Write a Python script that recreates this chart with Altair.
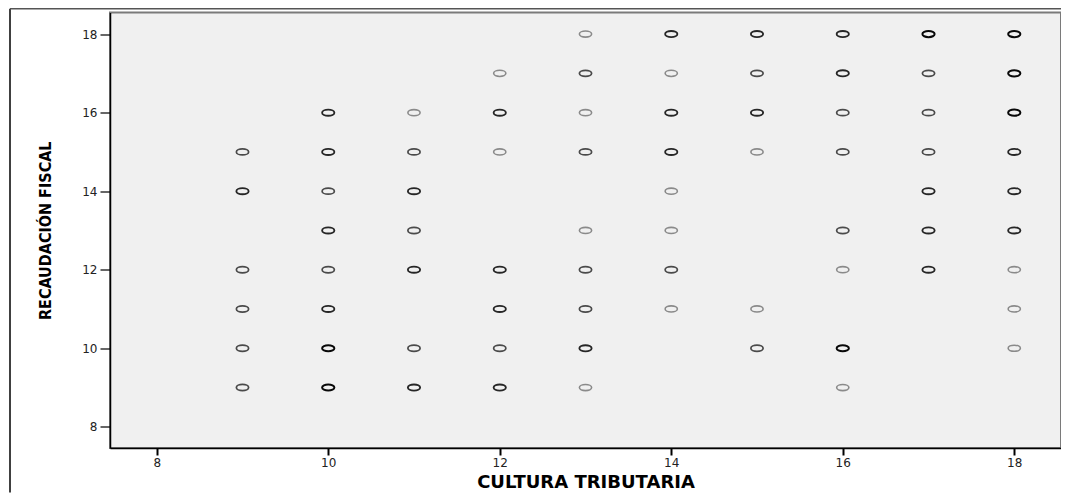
import altair as alt
import pandas as pd

# CULTURA TRIBUTARIA (x), RECAUDACIÓN FISCAL (y), number of overlapping cases (n)
cultura = (
    [9] * 6 + [10] * 8 + [11] * 7 + [12] * 7 + [13] * 9 +
    [14] * 8 + [15] * 6 + [16] * 8 + [17] * 7 + [18] * 9
)
recaudacion = (
    [15, 14, 12, 11, 10, 9]
    + [16, 15, 14, 13, 12, 11, 10, 9]
    + [16, 15, 14, 13, 12, 10, 9]
    + [17, 16, 15, 12, 11, 10, 9]
    + [18, 17, 16, 15, 13, 12, 11, 10, 9]
    + [18, 17, 16, 15, 14, 13, 12, 11]
    + [18, 17, 16, 15, 11, 10]
    + [18, 17, 16, 15, 13, 12, 10, 9]
    + [18, 17, 16, 15, 14, 13, 12]
    + [18, 17, 16, 15, 14, 13, 12, 11, 10]
)
conteo = (
    [2, 3, 2, 2, 2, 2]
    + [3, 3, 2, 3, 2, 3, 4, 4]
    + [1, 2, 3, 2, 3, 2, 3]
    + [1, 3, 1, 3, 3, 2, 3]
    + [1, 2, 1, 2, 1, 2, 2, 3, 1]
    + [3, 1, 3, 3, 1, 1, 2, 1]
    + [3, 2, 3, 1, 1, 2]
    + [3, 3, 2, 2, 2, 1, 4, 1]
    + [4, 2, 2, 2, 3, 3, 3]
    + [4, 4, 4, 3, 3, 3, 1, 1, 1]
)
ticks = [8, 10, 12, 14, 16, 18]

df = pd.DataFrame({"x": cultura, "y": recaudacion, "n": conteo})

ellipse = "M-1,0A1,0.5,0,1,0,1,0A1,0.5,0,1,0,-1,0Z"

points = alt.Chart(df).mark_point(
    shape=ellipse, size=150, filled=False, opacity=1
).encode(
    x=alt.X(
        "x:Q",
        scale=alt.Scale(domain=[7.455, 18.545], nice=False, zero=False),
        axis=alt.Axis(
            title="CULTURA TRIBUTARIA",
            values=ticks,
            grid=False,
            domainColor="#000000",
            domainWidth=1.5,
            tickColor="#000000",
            tickWidth=2,
            tickSize=7,
            labelPadding=2,
            labelFont="DejaVu Sans",
            labelFontSize=12,
            labelColor="#222222",
            titleFont="DejaVu Sans",
            titleFontSize=18,
            titleFontWeight="bold",
            titleColor="#000000",
            titleY=34,
            titleBaseline="middle",
        ),
    ),
    y=alt.Y(
        "y:Q",
        scale=alt.Scale(domain=[7.46, 18.55], nice=False, zero=False),
        axis=alt.Axis(
            title="RECAUDACIÓN FISCAL",
            values=ticks,
            grid=False,
            domainColor="#000000",
            domainWidth=1.5,
            tickColor="#000000",
            tickWidth=1.2,
            tickSize=10,
            labelPadding=3,
            labelFont="DejaVu Sans",
            labelFontSize=12,
            labelColor="#222222",
            titleFont="DejaVu Sans Condensed, sans-serif",
            titleFontSize=16,
            titleFontWeight="bold",
            titleColor="#000000",
            titleX=-65,
            titleBaseline="middle",
        ),
    ),
    stroke=alt.Stroke(
        "n:O",
        scale=alt.Scale(domain=[1, 2, 3, 4],
                        range=["#8a8a8a", "#4a4a4a", "#262626", "#080808"]),
        legend=None,
    ),
    strokeWidth=alt.StrokeWidth(
        "n:O",
        scale=alt.Scale(domain=[1, 2, 3, 4], range=[1.6, 2.0, 2.4, 2.8]),
        legend=None,
    ),
)

frame_df = pd.DataFrame({"a": [0]})
frame_left = alt.Chart(frame_df).mark_rule(color="#000000", strokeWidth=1.5).encode(
    x=alt.value(-100), y=alt.value(-3.8), y2=alt.value(480)
)
frame_top = alt.Chart(frame_df).mark_rule(color="#555555", strokeWidth=1.5).encode(
    x=alt.value(-100), x2=alt.value(960), y=alt.value(-3.8)
)

chart = alt.layer(frame_left, frame_top, points).properties(
    width=951,
    height=435.5,
    autosize=alt.AutoSizeParams(type="none"),
    padding={"left": 102, "top": 4.5, "right": 0, "bottom": 45},
    background="#ffffff",
).configure_view(
    fill="#f0f0f0",
    stroke="#7a7a7a",
    strokeWidth=2,
)

chart.save("out.html", embed_options={"renderer": "svg", "actions": False})
